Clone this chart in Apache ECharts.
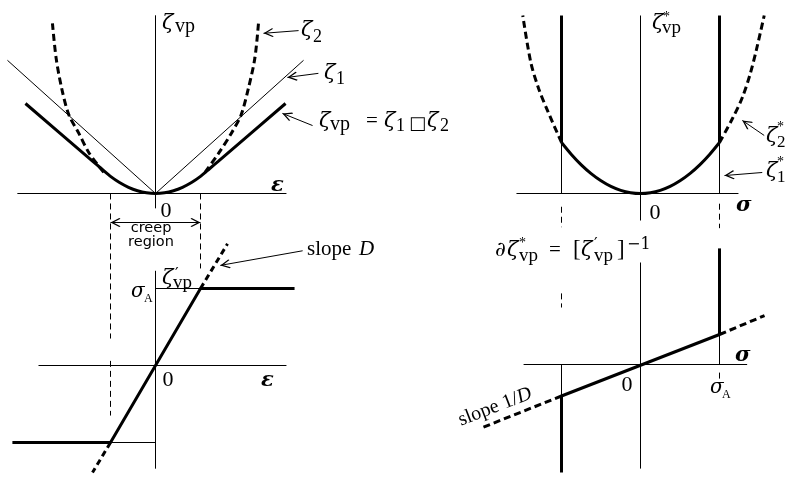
<!DOCTYPE html>
<html><head><meta charset="utf-8">
<script src="https://cdn.jsdelivr.net/npm/echarts@6/dist/echarts.min.js"></script>
<style>html,body{margin:0;padding:0;background:#fff}#c{width:797px;height:478px}</style>
</head><body><div id="c"></div>
<script>
// ---------- Panel A (top-left): ζ over ε ----------
const A_epsAxis = [[-3.07,0],[2.91,0]];
const A_zetaAxis = [[0,-0.33],[0,3.96]];
const A_zeta1 = [[-3.29,2.96],[0,0],[3.29,2.96]];
const A_zetaVp = [[-2.89,2.0],[-1.4,0.72],[-1.2,0.55],[-1.0,0.38],[-0.8,0.243],[-0.6,0.137],[-0.4,0.061],[-0.2,0.015],[0,0],[0.2,0.015],[0.4,0.061],[0.6,0.137],[0.8,0.243],[1.0,0.38],[1.2,0.55],[1.4,0.72],[2.89,2.0]];
const A_zeta2Left = [[-1.15,0.47],[-1.47,0.89],[-1.70,1.33],[-1.93,1.76],[-2.09,2.36],[-2.21,3.02],[-2.29,3.78]];
const A_zeta2Right = [[1.1,0.47],[1.40,0.89],[1.68,1.33],[1.90,1.74],[2.07,2.36],[2.21,3.02],[2.29,3.8]];
const A_arrowCreep = [[-1,-0.644],[1,-0.644]];
const A_arrowZeta2 = [[3.18,3.62],[2.4,3.56]];
const A_arrowZeta1 = [[3.62,2.67],[2.93,2.58]];
const A_arrowZetaVp = [[3.49,1.51],[2.82,1.78]];

// ---------- Panel C (bottom-left): ζ'_vp over ε ----------
const C_epsAxis = [[-2.6,0],[2.91,0]];
const C_dAxis = [[0,-1.34],[0,1.23]];
const C_zetaPrime = [[-3.18,-1],[-1,-1],[1,1],[3.09,1]];
const C_levelTop = [[0,1],[1,1]];
const C_levelBottom = [[-1,-1],[0,-1]];
const C_slopeUp = [[1,1],[1.6,1.58]];
const C_slopeDown = [[-1,-1],[-1.4,-1.39]];
const C_creepLeftA = [[-1,2.234],[-1,0.35]];
const C_creepLeftB = [[-1,0.06],[-1,-0.65]];
const C_creepRight = [[1,2.234],[1,1.26]];
const C_arrowSlope = [[3.27,1.49],[1.44,1.30]];

// ---------- Panel B (top-right): ζ*_vp over σ ----------
const B_sigAxis = [[-1.57,0],[1.24,0]];
const B_zAxis = [[0,-0.265],[0,1.745]];
const B_zeta1 = [[-1,0.5],[-0.875,0.383],[-0.75,0.281],[-0.625,0.195],[-0.5,0.125],[-0.375,0.07],[-0.25,0.031],[-0.125,0.008],[0,0],[0.125,0.008],[0.25,0.031],[0.375,0.07],[0.5,0.125],[0.625,0.195],[0.75,0.281],[0.875,0.383],[1,0.5]];
const B_wallLeft = [[-1,0.5],[-1,1.745]];
const B_wallRight = [[1,0.5],[1,1.745]];
const B_guideLeft = [[-1,0],[-1,0.5]];
const B_guideRight = [[1,0],[1,0.5]];
const B_zeta2Left = [[-1,0.5],[-1.17,0.80],[-1.29,1.03],[-1.39,1.29],[-1.49,1.745]];
const B_zeta2Right = [[1,0.5],[1.164,0.735],[1.289,0.941],[1.39,1.176],[1.465,1.402],[1.566,1.745]];
const B_tickLeft = [[-1,-0.13],[-1,-0.33]];
const B_tickRight = [[1,-0.1],[1,-0.34]];
const B_arrowZeta2 = [[1.566,0.569],[1.289,0.716]];
const B_arrowZeta1 = [[1.541,0.206],[1.063,0.176]];

// ---------- Panel D (bottom-right): ∂ζ*_vp over σ ----------
const D_sigAxis = [[-1.48,0],[1.35,0]];
const D_eAxis = [[0,-3.47],[0,3.4]];
const D_inverse = [[-1,-1.05],[1,1]];
const D_wallRight = [[1,1],[1,3.87]];
const D_wallLeft = [[-1,-1.05],[-1,-3.6]];
const D_guideRight = [[1,0],[1,1]];
const D_guideLeft = [[-1,0],[-1,-1.05]];
const D_extRight = [[1,1],[1.57,1.63]];
const D_extLeft = [[-1,-1.05],[-2.0,-2.1]];
const D_tickLeft = [[-1,2.37],[-1,1.9]];
const D_tickSigmaA = [[1,-0.27],[1,-0.47]];

// ---------- rendering ----------
const K = '#000';
const SERIF = "'Liberation Serif','DejaVu Serif',serif";
const GREEK = "'DejaVu Serif','Liberation Serif',serif";
const SANS = "'DejaVu Sans',sans-serif";
const CHEV = 'path://M5,0L5.01,0Z M5,5 L10,9.4 L9.1,10 L5,6.4 L0.9,10 L0,9.4 Z';

function L(g, data, w, dash, smooth) {
  return {type:'line', xAxisIndex:g, yAxisIndex:g, data, symbol:'none', showSymbol:false,
    smooth: smooth || false, clip:false, silent:true, animation:false,
    lineStyle:{color:K, width:w, type: dash || 'solid', cap:'butt'}, z: w > 1 ? 3 : 2};
}
function AR(g, seg, both) {
  return {type:'line', xAxisIndex:g, yAxisIndex:g, data:seg, symbol:'none', silent:true, animation:false, clip:false,
    lineStyle:{opacity:0, width:0},
    markLine:{silent:true, animation:false, symbol: both ? [CHEV, CHEV] : ['none', CHEV], symbolSize:[9,20],
      label:{show:false}, lineStyle:{color:K, width:1, type:'solid'},
      data:[[{coord:seg[0]},{coord:seg[1]}]]}};
}
function T(x, b, text, size, o) {
  o = o || {};
  const fam = o.fam || (o.it ? GREEK : SERIF);
  const font = (o.it ? 'italic ' : '') + (o.bold ? 'bold ' : '') + size + 'px ' + fam;
  const al = o.align || 'left';
  return {type:'text', silent:true, z:10,
    style:{x, y: b - 0.3 * size, text, font, fill:K, align:al, verticalAlign:'middle', textAlign:al, textVerticalAlign:'middle'}};
}

const thickDash = [7,4];
const thinDash = [6,4];

const series = [
  // A
  L(0, A_epsAxis, 1), L(0, A_zetaAxis, 1), L(0, A_zeta1, 1),
  L(0, A_zeta2Left, 3, thickDash, 0.3), L(0, A_zeta2Right, 3, thickDash, 0.3),
  L(0, A_zetaVp, 3, null, 0.2),
  AR(0, A_arrowCreep, true), AR(0, A_arrowZeta2), AR(0, A_arrowZeta1), AR(0, A_arrowZetaVp),
  // C
  L(1, C_epsAxis, 1), L(1, C_dAxis, 1), L(1, C_levelTop, 1), L(1, C_levelBottom, 1),
  L(1, C_creepLeftA, 1, thinDash), L(1, C_creepLeftB, 1, thinDash), L(1, C_creepRight, 1, thinDash),
  L(1, C_slopeUp, 3, [6,4]), L(1, C_slopeDown, 3, [6,4]),
  L(1, C_zetaPrime, 3),
  AR(1, C_arrowSlope),
  // B
  L(2, B_sigAxis, 1), L(2, B_zAxis, 1), L(2, B_guideLeft, 1), L(2, B_guideRight, 1),
  L(2, B_tickLeft, 1, thinDash), L(2, B_tickRight, 1, thinDash),
  L(2, B_zeta2Left, 3, thickDash, 0.3), L(2, B_zeta2Right, 3, thickDash, 0.3),
  L(2, B_zeta1, 3, null, 0.3), L(2, B_wallLeft, 3), L(2, B_wallRight, 3),
  AR(2, B_arrowZeta2), AR(2, B_arrowZeta1),
  // D
  L(3, D_sigAxis, 1), L(3, D_eAxis, 1), L(3, D_guideRight, 1), L(3, D_guideLeft, 1),
  L(3, D_tickLeft, 1, thinDash), L(3, D_tickSigmaA, 1),
  L(3, D_extRight, 3, thickDash), L(3, D_extLeft, 3, thickDash),
  L(3, D_inverse, 3), L(3, D_wallRight, 3), L(3, D_wallLeft, 3)
];

const labels = [
  // A
  T(162,30,'ζ',21,{it:1}), T(175,33,'vp',20),
  T(166,218,'0',22,{align:'center'}),
  T(271,192,'ε',21,{it:1,bold:1}),
  T(301,37,'ζ',21,{it:1}), T(313,43,'2',18),
  T(324,80,'ζ',21,{it:1}), T(336,85,'1',18),
  T(319,128,'ζ',21,{it:1}), T(330,131,'vp',20), T(366,128,'=',21),
  T(384,128,'ζ',21,{it:1}), T(396,132,'1',18), T(409,130,'□',18,{fam:SANS}),
  T(427,128,'ζ',21,{it:1}), T(440,132,'2',18),
  T(151,233,'creep',14.5,{fam:SANS,align:'center'}), T(151,247,'region',14.5,{fam:SANS,align:'center'}),
  // C
  T(162,285,'ζ',21,{it:1}), T(175,280,'′',16,{fam:GREEK}), T(173,289,'vp',19),
  T(131,298,'σ',20,{it:1}), T(144,302,'A',12),
  T(168,387,'0',22,{align:'center'}),
  T(261,387,'ε',21,{it:1,bold:1}),
  T(307,256,'slope',21), T(359,256,'D',21,{it:1,fam:SERIF}),
  // B
  T(652,30,'ζ',21,{it:1}), T(663,22,'*',14), T(662,34,'vp',19),
  T(655,220,'0',22,{align:'center'}),
  T(736,212,'σ',21,{it:1,bold:1}),
  T(766,143,'ζ',21,{it:1}), T(777,132,'*',14), T(777,148,'2',17),
  T(766,178,'ζ',21,{it:1}), T(777,167,'*',14), T(777,183,'1',17),
  // D
  T(495,257,'∂',21,{it:1}), T(507,257,'ζ',21,{it:1}), T(519,248,'*',14), T(519,262,'vp',19),
  T(549,257,'=',21), T(573,257,'[',23), T(581,257,'ζ',21,{it:1}), T(594,250,'′',16,{fam:GREEK}), T(594,262,'vp',19),
  T(617,257,']',23), T(627,250,'−1',16,{fam:GREEK}),
  T(627,392,'0',22,{align:'center'}),
  T(735,362,'σ',21,{it:1,bold:1}),
  T(710,394,'σ',20,{it:1}), T(722,398,'A',12),
  {type:'text', silent:true, z:10, x:495, y:407, rotation:0.37,
    style:{x:0, y:0, text:'slope 1/{i|D}', fontSize:20, fontFamily:SERIF, fill:K, align:'center', verticalAlign:'middle', textAlign:'center', textVerticalAlign:'middle',
      rich:{i:{fontStyle:'italic', fontSize:20, fontFamily:SERIF}}}}
];

const option = {
  backgroundColor:'#fff',
  animation:false,
  grid:[
    {left:2.5, top:13.5, width:360, height:225, show:false},
    {left:2.5, top:250, width:360, height:227.15, show:false},
    {left:466.7, top:9.9, width:327.85, height:234.6, show:false},
    {left:466.7, top:244.5, width:327.85, height:232.5, show:false}
  ],
  xAxis:[
    {gridIndex:0, type:'value', min:-3.4, max:4.6, show:false},
    {gridIndex:1, type:'value', min:-3.4, max:4.6, show:false},
    {gridIndex:2, type:'value', min:-2.2, max:1.95, show:false},
    {gridIndex:3, type:'value', min:-2.2, max:1.95, show:false}
  ],
  yAxis:[
    {gridIndex:0, type:'value', min:-1, max:4, show:false},
    {gridIndex:1, type:'value', min:-1.45, max:1.5, show:false},
    {gridIndex:2, type:'value', min:-0.5, max:1.8, show:false},
    {gridIndex:3, type:'value', min:-3.75, max:4, show:false}
  ],
  series,
  graphic: labels
};
const chart = echarts.init(document.getElementById('c'), null, {renderer:'canvas'});
chart.setOption(option);
</script></body></html>
